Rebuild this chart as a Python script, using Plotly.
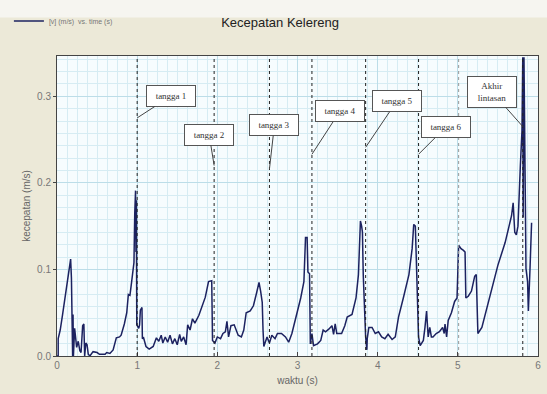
import plotly.graph_objects as go

# time (s)
t = [0.00, 0.015, 0.015, 0.04, 0.07, 0.10, 0.13, 0.15, 0.17, 0.18, 0.19, 0.195, 0.20, 0.205, 0.22, 0.245,
     0.265, 0.285, 0.30, 0.32, 0.335, 0.345, 0.36, 0.375, 0.39, 0.41, 0.45, 0.50, 0.53, 0.56, 0.60, 0.62,
     0.66, 0.70, 0.74, 0.78, 0.80, 0.84, 0.87, 0.89, 0.91, 0.93, 0.95, 0.96, 0.97, 0.98, 0.985, 0.99, 0.995,
     1.00, 1.02, 1.03, 1.04, 1.06, 1.065, 1.08, 1.11, 1.15, 1.20, 1.24, 1.27, 1.30, 1.32, 1.35, 1.38, 1.41,
     1.44, 1.47, 1.50, 1.53, 1.55, 1.58, 1.61, 1.63, 1.66, 1.69, 1.72, 1.77, 1.81, 1.85, 1.89, 1.93, 1.94,
     1.97, 2.00, 2.04, 2.07, 2.10, 2.12, 2.14, 2.17, 2.21, 2.26, 2.30, 2.33, 2.36, 2.41, 2.45, 2.49, 2.52,
     2.54, 2.56, 2.57, 2.58, 2.62, 2.65, 2.68, 2.72, 2.75, 2.80, 2.85, 2.89, 2.93, 2.98, 3.04, 3.08, 3.10,
     3.12, 3.13, 3.15, 3.16, 3.18, 3.20, 3.25, 3.29, 3.32, 3.35, 3.39, 3.43, 3.45, 3.47, 3.49, 3.55, 3.59,
     3.62, 3.68, 3.73, 3.76, 3.785, 3.80, 3.81, 3.82, 3.84, 3.85, 3.865, 3.87, 3.89, 3.93, 3.97, 4.01, 4.05,
     4.09, 4.13, 4.18, 4.22, 4.26, 4.32, 4.39, 4.43, 4.45, 4.47, 4.49, 4.51, 4.53, 4.57, 4.59, 4.61, 4.63,
     4.65, 4.67, 4.69, 4.73, 4.77, 4.81, 4.83, 4.84, 4.86, 4.88, 4.92, 4.96, 4.99, 5.01, 5.04, 5.07, 5.09,
     5.10, 5.13, 5.17, 5.21, 5.23, 5.25, 5.30, 5.34, 5.42, 5.50, 5.59, 5.67, 5.69, 5.71, 5.73, 5.75, 5.78,
     5.80, 5.81, 5.815, 5.825, 5.84, 5.85, 5.87, 5.88, 5.90, 5.92]

# velocity (m/s)
v = [0.000, 0.000, 0.020, 0.030, 0.048, 0.068, 0.088, 0.100, 0.112, 0.090, 0.050, 0.000, 0.048, 0.000, 0.032, 0.010,
     0.017, 0.006, 0.004, 0.035, 0.037, 0.000, 0.015, 0.013, 0.002, 0.000, 0.005, 0.004, 0.002, 0.002, 0.002, 0.004,
     0.003, 0.007, 0.021, 0.022, 0.024, 0.037, 0.050, 0.071, 0.070, 0.085, 0.100, 0.108, 0.165, 0.191, 0.120, 0.180, 0.036,
     0.035, 0.032, 0.036, 0.053, 0.056, 0.020, 0.021, 0.011, 0.008, 0.011, 0.021, 0.017, 0.024, 0.015, 0.022, 0.016, 0.024,
     0.014, 0.020, 0.013, 0.025, 0.017, 0.022, 0.013, 0.036, 0.030, 0.043, 0.038, 0.047, 0.057, 0.068, 0.086, 0.087, 0.018,
     0.015, 0.022, 0.020, 0.026, 0.028, 0.040, 0.022, 0.035, 0.036, 0.024, 0.022, 0.030, 0.050, 0.052, 0.058, 0.073, 0.085,
     0.075, 0.062, 0.030, 0.011, 0.022, 0.015, 0.024, 0.020, 0.026, 0.026, 0.022, 0.016, 0.026, 0.045, 0.067, 0.086, 0.137,
     0.137, 0.097, 0.095, 0.014, 0.026, 0.012, 0.014, 0.018, 0.030, 0.028, 0.031, 0.035, 0.025, 0.037, 0.026, 0.026, 0.035,
     0.045, 0.048, 0.067, 0.094, 0.156, 0.150, 0.143, 0.094, 0.041, 0.022, 0.007, 0.020, 0.033, 0.033, 0.026, 0.028, 0.022,
     0.020, 0.025, 0.019, 0.022, 0.045, 0.067, 0.094, 0.124, 0.152, 0.150, 0.071, 0.022, 0.012, 0.018, 0.033, 0.052, 0.022,
     0.033, 0.022, 0.022, 0.026, 0.028, 0.033, 0.026, 0.037, 0.022, 0.041, 0.050, 0.063, 0.067, 0.128, 0.124, 0.122, 0.120,
     0.067, 0.069, 0.075, 0.092, 0.094, 0.026, 0.033, 0.048, 0.075, 0.105, 0.131, 0.162, 0.177, 0.143, 0.140, 0.150, 0.220,
     0.260, 0.345, 0.160, 0.345, 0.150, 0.101, 0.086, 0.052, 0.100, 0.154]

# marker lines (s) and labels
mark_t = [1.00, 1.96, 2.65, 3.18, 3.85, 4.51, 5.81]
mark_v = [0.275, 0.220, 0.216, 0.233, 0.241, 0.233, 0.265]
mark_labels = ["tangga 1", "tangga 2", "tangga 3", "tangga 4", "tangga 5", "tangga 6", "Akhir<br>lintasan"]
extra_line_t = [5.01]

x_ticks = [0, 1, 2, 3, 4, 5, 6]
y_ticks = [0.0, 0.1, 0.2, 0.3]
y_tick_labels = ["0.0", "0.1", "0.2", "0.3"]

fig = go.Figure()
fig.add_trace(go.Scatter(x=t, y=v, mode="lines", name="[v] (m/s)  vs. time (s)",
                         line=dict(color="#1c2260", width=1.5)))

shapes = []
for xm in mark_t:
    shapes.append(dict(type="line", xref="x", yref="paper", x0=xm, x1=xm, y0=0, y1=1,
                       line=dict(color="#222222", width=1, dash="dot")))
for xm in extra_line_t:
    shapes.append(dict(type="line", xref="x", yref="paper", x0=xm, x1=xm, y0=0, y1=1,
                       line=dict(color="#9a9a9a", width=1, dash="dot")))
# light strip at the very top
shapes.append(dict(type="rect", xref="paper", yref="paper", x0=-0.2, x1=1.1, y0=1.128, y1=1.2,
                   fillcolor="#f6f5f0", line=dict(width=0), layer="below"))

offsets = [(34, -22), (-5, -31), (5, -44), (28, -43), (31, -46), (27, -27), (-31, -35)]
annotations = []
for (xm, ym, lab, (ax, ay)) in zip(mark_t, mark_v, mark_labels, offsets):
    two = "<br>" in lab
    annotations.append(dict(x=xm, y=ym, xref="x", yref="y", text=lab, showarrow=True,
                            ax=ax, ay=ay, arrowhead=0, arrowwidth=1, arrowcolor="#444444",
                            font=dict(family="Liberation Serif", size=9, color="#333333"),
                            bgcolor="#ffffff", bordercolor="#555555", borderwidth=1,
                            width=46, height=28 if two else 18, borderpad=1))

fig.update_layout(
    width=547, height=394,
    margin=dict(l=57, r=6, t=50, b=38),
    paper_bgcolor="#ece9d8",
    plot_bgcolor="#f6fcfe",
    title=dict(text="Kecepatan Kelereng", x=0.512, xanchor="center", xref="paper" if False else "container",
               y=0.942, yanchor="middle", font=dict(family="Liberation Sans", size=13, color="#222222")),
    showlegend=True,
    legend=dict(x=-0.1, y=1.165, xanchor="left", yanchor="top", bgcolor="rgba(0,0,0,0)",
                font=dict(family="Liberation Sans", size=7, color="#777777"),
                itemwidth=30, tracegroupgap=0),
    shapes=shapes,
    annotations=annotations,
    xaxis=dict(range=[0, 6], tickvals=x_ticks, ticktext=[str(x) for x in x_ticks],
               showgrid=True, gridcolor="#bcdde8", gridwidth=1,
               minor=dict(dtick=0.125, showgrid=True, gridcolor="#d6ecf3", gridwidth=1),
               showline=True, linecolor="#444444", linewidth=1, mirror=True,
               ticks="inside", ticklen=4, tickcolor="#444444",
               tickfont=dict(family="Liberation Sans", size=10, color="#777777"),
               title=dict(text="waktu (s)", standoff=6,
                          font=dict(family="Liberation Sans", size=10, color="#666666")),
               zeroline=False),
    yaxis=dict(range=[0, 0.3465], tickvals=y_ticks, ticktext=y_tick_labels,
               showgrid=True, gridcolor="#bcdde8", gridwidth=1,
               minor=dict(dtick=0.1 / 7, showgrid=True, gridcolor="#d6ecf3", gridwidth=1),
               showline=True, linecolor="#444444", linewidth=1, mirror=True,
               ticks="outside", ticklen=3, tickcolor="#444444",
               tickfont=dict(family="Liberation Sans", size=10, color="#777777"),
               title=dict(text="kecepatan (m/s)", standoff=4,
                          font=dict(family="Liberation Sans", size=10, color="#666666")),
               zeroline=False),
)

fig.write_html("out.html")
